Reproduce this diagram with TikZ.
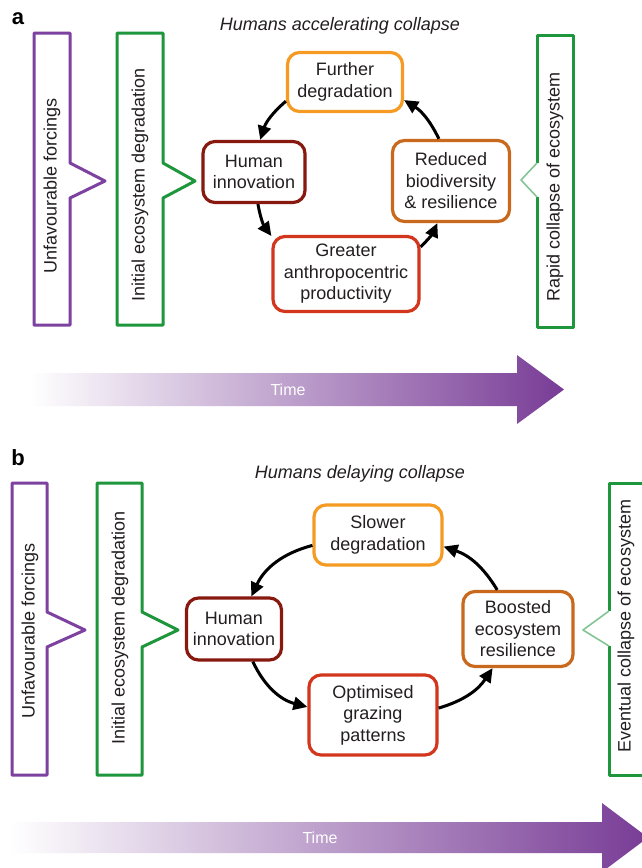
\documentclass[tikz,border=0pt]{standalone}
\usepackage{fontspec}
\setmainfont{Liberation Sans}
\usetikzlibrary{arrows.meta}
\definecolor{banpurple}{RGB}{125,65,160}
\definecolor{bangreen}{RGB}{30,150,60}
\definecolor{boxorange}{RGB}{245,155,35}
\definecolor{boxmaroon}{RGB}{135,25,15}
\definecolor{boxred}{RGB}{210,55,30}
\definecolor{boxbrown}{RGB}{200,105,30}
\definecolor{timepurple}{RGB}{120,60,150}
\definecolor{txt}{RGB}{35,31,32}
\tikzset{
  cyclebox/.style={draw, line width=3.2pt, rounded corners=12pt, fill=white, align=center, inner sep=0pt, text=txt, font=\fontsize{18}{21.5}\selectfont},
  arr/.style={line width=3pt, -{Triangle[length=14pt,width=13pt]}, draw=black},
  banner/.style={line width=3pt, line join=round, fill=white},
  bantext/.style={rotate=90, text=txt, font=\fontsize{18}{21.5}\selectfont, inner sep=0pt},
  paneltitle/.style={text=txt, font=\fontsize{18}{21.5}\selectfont\itshape, inner sep=0pt},
  panellabel/.style={text=black, font=\fontsize{22}{24}\selectfont\bfseries, inner sep=0pt},
  timetext/.style={text=white, font=\fontsize{16}{18}\selectfont, inner sep=0pt}
}
\begin{document}
\begin{tikzpicture}[x=1pt,y=1pt]
\useasboundingbox (0,0) rectangle (641,-868);
\fill[white] (0,0) rectangle (641,-868);

% ---------------- Panel a ----------------
\node[panellabel] (la) at (18,-19) {a};
\node[paneltitle] (ta) at (340,-26) {Humans accelerating collapse};

\draw[banner, draw=banpurple] (34,-33) -- (70,-33) -- (70,-163) -- (105,-181) -- (70,-198) -- (70,-325) -- (34,-325) -- cycle;
\node[bantext] (ufa) at (52,-186) {Unfavourable forcings};
\draw[banner, draw=bangreen] (117,-33) -- (163,-33) -- (163,-163) -- (195,-181) -- (163,-198) -- (163,-325) -- (117,-325) -- cycle;
\node[bantext] (iea) at (140,-185) {Initial ecosystem degradation};

\fill[white] (537,-35) -- (573,-35) -- (573,-327) -- (537,-327) -- (537,-197) -- (521,-180) -- (537,-163) -- cycle;
\draw[line width=3pt, line join=round, draw=bangreen] (537,-163) -- (537,-35) -- (573,-35) -- (573,-327) -- (537,-327) -- (537,-197);
\draw[line width=1.6pt, line join=round, draw=bangreen!55] (537,-197) -- (521,-180) -- (537,-163);
\node[bantext] (rca) at (555,-187) {Rapid collapse of ecosystem};

\node[cyclebox, draw=boxorange, minimum width=115pt, minimum height=59pt] (fd) at (345,-82) {Further\\degradation};
\node[cyclebox, draw=boxmaroon, minimum width=102pt, minimum height=61pt] (hi) at (254,-172) {Human\\innovation};
\node[cyclebox, draw=boxred, minimum width=146pt, minimum height=75pt] (gp) at (346,-274) {Greater\\anthropocentric\\productivity};
\node[cyclebox, draw=boxbrown, minimum width=117pt, minimum height=81pt] (rb) at (451,-181) {Reduced\\biodiversity\\\& resilience};

\draw[arr] (fd.198) to[bend right=16] (hi.79);
\draw[arr] (hi.277) to[bend right=13] (gp.153);
\draw[arr] (gp.20) to[bend right=11] (rb.252);
\draw[arr] (rb.106) to[bend right=16] (fd.343);

\shade[left color=white, right color=timepurple] (30,-373) -- (517,-373) -- (517,-355) -- (564,-389.5) -- (517,-424) -- (517,-406) -- (30,-406) -- cycle;
\node[timetext] (tma) at (288,-389.5) {Time};

% ---------------- Panel b ----------------
\node[panellabel] (lb) at (18,-458) {b};
\node[paneltitle] (tb) at (360,-474) {Humans delaying collapse};

\draw[banner, draw=banpurple] (12,-483) -- (47,-483) -- (47,-612) -- (85,-630) -- (47,-647) -- (47,-775) -- (12,-775) -- cycle;
\node[bantext] (ufb) at (30,-631) {Unfavourable forcings};
\draw[banner, draw=bangreen] (97,-483) -- (142,-483) -- (142,-612) -- (178,-630) -- (142,-647) -- (142,-775) -- (97,-775) -- cycle;
\node[bantext] (ieb) at (120,-628) {Initial ecosystem degradation};

\fill[white] (609,-483) -- (655,-483) -- (655,-775) -- (609,-775) -- (609,-646) -- (583,-630) -- (609,-611) -- cycle;
\draw[line width=3pt, line join=round, draw=bangreen] (609,-611) -- (609,-483) -- (655,-483);
\draw[line width=3pt, line join=round, draw=bangreen] (655,-775) -- (609,-775) -- (609,-646);
\draw[line width=1.6pt, line join=round, draw=bangreen!55] (609,-646) -- (583,-630) -- (609,-611);
\node[bantext] (ecb) at (626,-626) {Eventual collapse of ecosystem};

\node[cyclebox, draw=boxorange, minimum width=128pt, minimum height=60pt] (sd) at (378,-535) {Slower\\degradation};
\node[cyclebox, draw=boxmaroon, minimum width=95pt, minimum height=62pt] (hib) at (234,-629) {Human\\innovation};
\node[cyclebox, draw=boxred, minimum width=128pt, minimum height=80pt] (og) at (373,-715) {Optimised\\grazing\\patterns};
\node[cyclebox, draw=boxbrown, minimum width=110pt, minimum height=75pt] (be) at (518,-629) {Boosted\\ecosystem\\resilience};

\draw[arr] (sd.189) to[bend right=25] (hib.62);
\draw[arr] (hib.300) to[bend right=25] (og.173);
\draw[arr] (og.6) to[bend right=20] (be.237);
\draw[arr] (be.118) to[bend right=20] (sd.350);

\shade[left color=white, right color=timepurple] (10,-822) -- (602,-822) -- (602,-803) -- (648,-837.5) -- (602,-872) -- (602,-853) -- (10,-853) -- cycle;
\node[timetext] (tmb) at (320,-837.5) {Time};
\end{tikzpicture}
\end{document}
